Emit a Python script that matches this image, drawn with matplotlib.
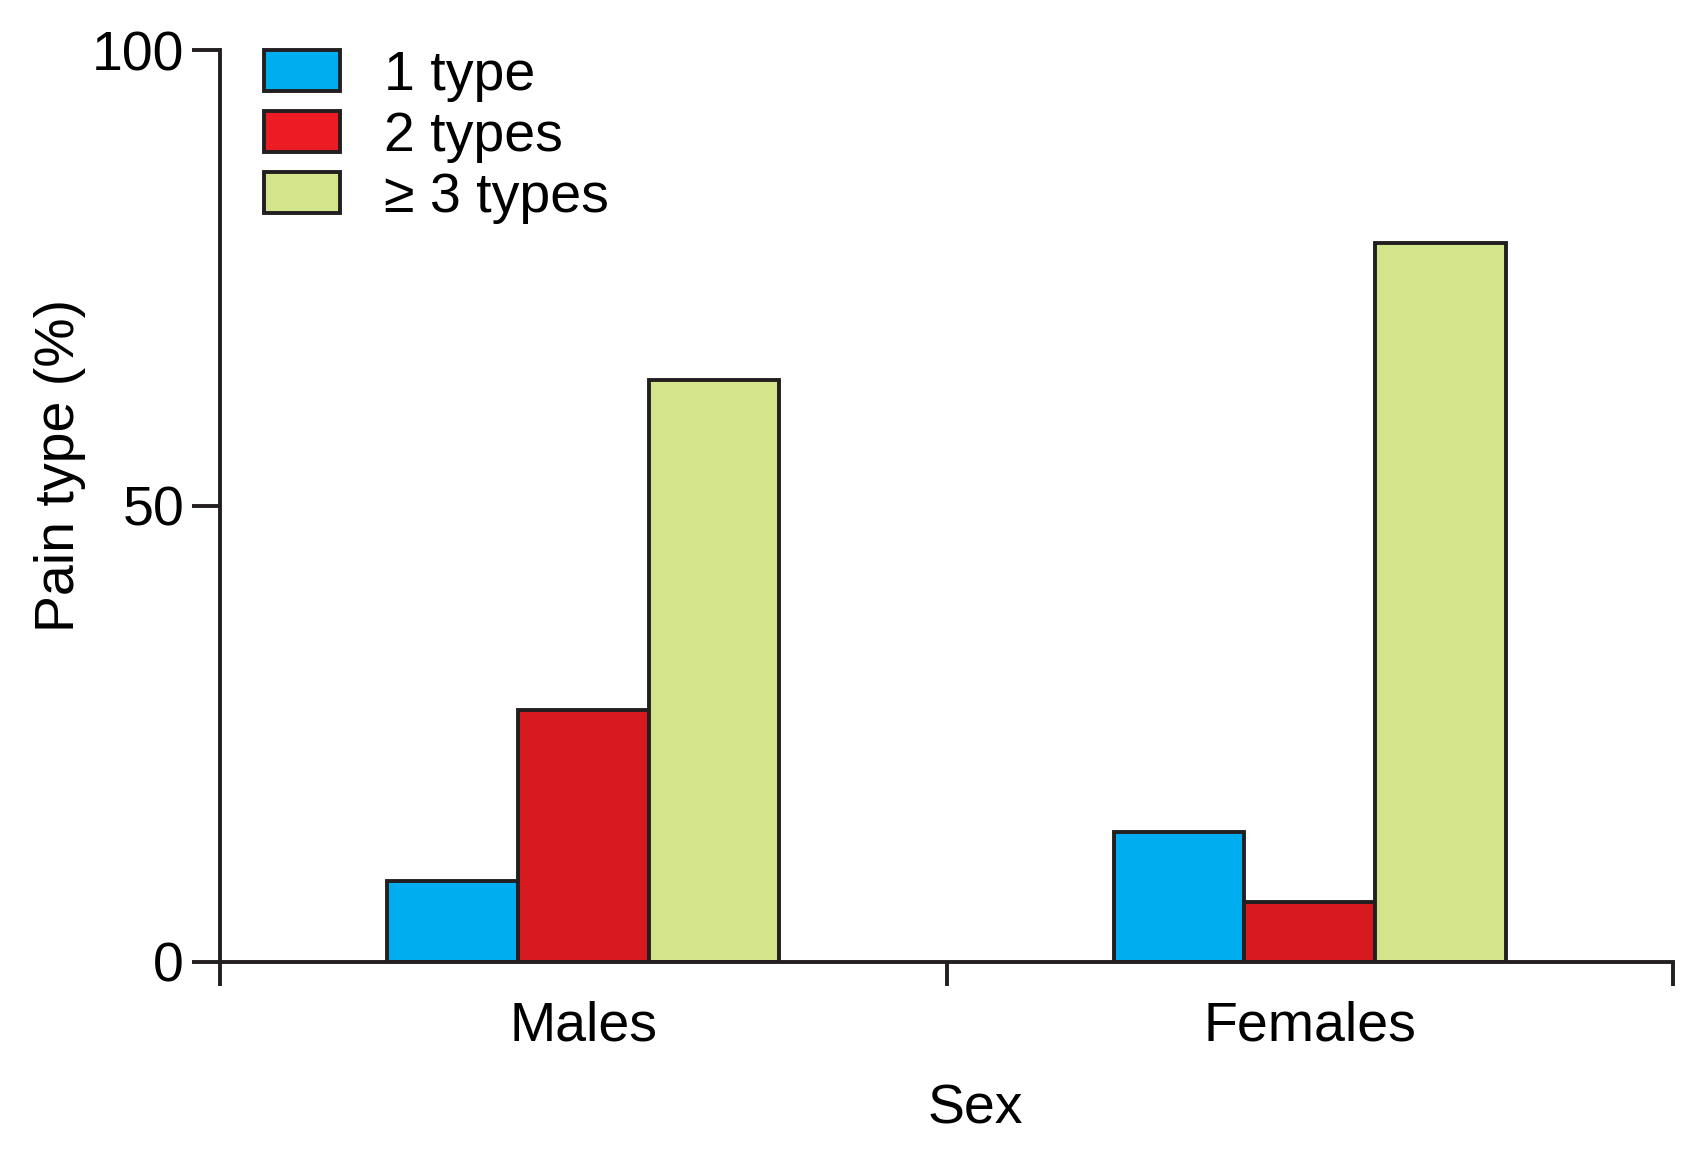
import numpy as np
import matplotlib.pyplot as plt
from matplotlib.patches import Patch

# data
groups = ['Males', 'Females']
series = ['1 type', '2 types', '\u2265 3 types']
one_type = [8.9, 14.2]
two_types = [27.6, 6.6]
three_plus = [63.8, 78.8]

colors = ['#00AEEF', '#D71920', '#D4E48A']
legend_colors = ['#00AEEF', '#ED1C24', '#D4E48A']
edge = '#231F20'

plt.rcParams['font.family'] = ['Liberation Sans', 'DejaVu Sans']
fs = 40
lw = 2.8

fig = plt.figure(figsize=(17.07, 11.53), dpi=100)
ax = fig.add_axes([0.129, 0.1657, 0.851, 0.7909])

x = np.arange(len(groups)) + 0.5
w = 0.18
for i, vals in enumerate([one_type, two_types, three_plus]):
    ax.bar(x + (i - 1) * w, vals, w, color=colors[i], edgecolor=edge,
           linewidth=lw, zorder=2)

ax.set_xlim(0, 2)
ax.set_ylim(0, 100)
ax.set_yticks([0, 50, 100])
ax.set_xticks([0, 1, 2])
ax.set_xticklabels([])
ax.set_xticks(x, minor=True)
ax.set_xticklabels(groups, minor=True)
ax.tick_params(axis='x', which='minor', length=0, labelsize=fs, pad=28)
ax.tick_params(axis='x', which='major', length=17, width=lw, color=edge)
ax.tick_params(axis='y', length=20, width=lw, color=edge, labelsize=fs, pad=6)

for s in ['top', 'right']:
    ax.spines[s].set_visible(False)
for s in ['left', 'bottom']:
    ax.spines[s].set_linewidth(lw)
    ax.spines[s].set_color(edge)

ax.set_xlabel('Sex', fontsize=fs, labelpad=22, x=0.52)
ax.set_ylabel('Pain type (%)', fontsize=fs, labelpad=4, y=0.544)

handles = [Patch(facecolor=c, edgecolor=edge, linewidth=lw) for c in legend_colors]
ax.legend(handles, series, loc='upper left', bbox_to_anchor=(0.03, 1.0),
          frameon=False, fontsize=fs, handlelength=1.37, handleheight=0.76,
          handletextpad=0.8, labelspacing=0.16, borderpad=0, borderaxespad=0)

fig.savefig('out.png', dpi=100)
